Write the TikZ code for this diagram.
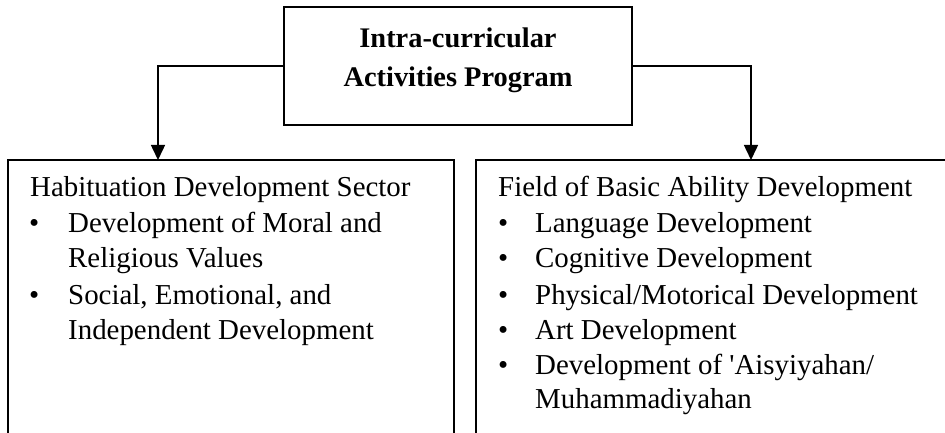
\documentclass[tikz,border=0pt]{standalone}
\usepackage{fontspec}
\setmainfont{Liberation Serif}[Ligatures=TeXOff]
\usetikzlibrary{arrows.meta}
\begin{document}
\begin{tikzpicture}[x=1bp,y=-1bp,
  boxln/.style={draw=black,line width=1.6bp,inner sep=0pt,fill=none},
  lbl/.style={anchor=base west,inner sep=0pt,font=\fontsize{29}{35}\selectfont},
  ttl/.style={anchor=base,inner sep=0pt,font=\fontsize{28.5}{39}\selectfont\bfseries},
  bul/.style={anchor=base west,inner sep=0pt,font=\fontsize{29}{35}\selectfont},
  arr/.style={draw=black,line width=1.5bp,-{Triangle[width=14bp,length=15bp]}}]
\useasboundingbox (0,0) rectangle (945,433);
\clip (0,0) rectangle (945,433);
% boxes
\node[boxln,minimum width=348bp,minimum height=118bp] (top) at (458,66) {};
\node[boxln,minimum width=446bp,minimum height=300bp] (lbox) at (231,310) {};
\node[boxln,minimum width=500bp,minimum height=300bp] (rbox) at (726,310) {};
% title
\node[ttl] (t1) at (458,48) {Intra-curricular};
\node[ttl] (t2) at (458,87) {Activities Program};
% connectors
\coordinate (la) at (158,160);
\coordinate (ra) at (751,160);
\draw[arr] (top.west) -| (la);
\draw[arr] (top.east) -| (ra);
% left text
\node[lbl] (lh) at (30,197) {Habituation Development Sector};
\node[bul] (lb1) at (29,233) {•};
\node[lbl] (l1) at (68,233) {Development of Moral and};
\node[lbl] (l2) at (68,268) {Religious Values};
\node[bul] (lb2) at (29,305) {•};
\node[lbl] (l3) at (68,305) {Social, Emotional, and};
\node[lbl] (l4) at (68,340) {Independent Development};
% right text
\node[lbl] (rh) at (498,197) {Field of Basic Ability Development};
\node[bul] (rb1) at (498,233) {•};
\node[lbl] (r1) at (535,233) {Language Development};
\node[bul] (rb2) at (498,268) {•};
\node[lbl] (r2) at (535,268) {Cognitive Development};
\node[bul] (rb3) at (498,305) {•};
\node[lbl] (r3) at (535,305) {Physical/Motorical Development};
\node[bul] (rb4) at (498,340) {•};
\node[lbl] (r4) at (535,340) {Art Development};
\node[bul] (rb5) at (498,375) {•};
\node[lbl] (r5) at (535,375) {Development of 'Aisyiyahan/};
\node[lbl] (r6) at (535,408) {Muhammadiyahan};
\end{tikzpicture}
\end{document}
